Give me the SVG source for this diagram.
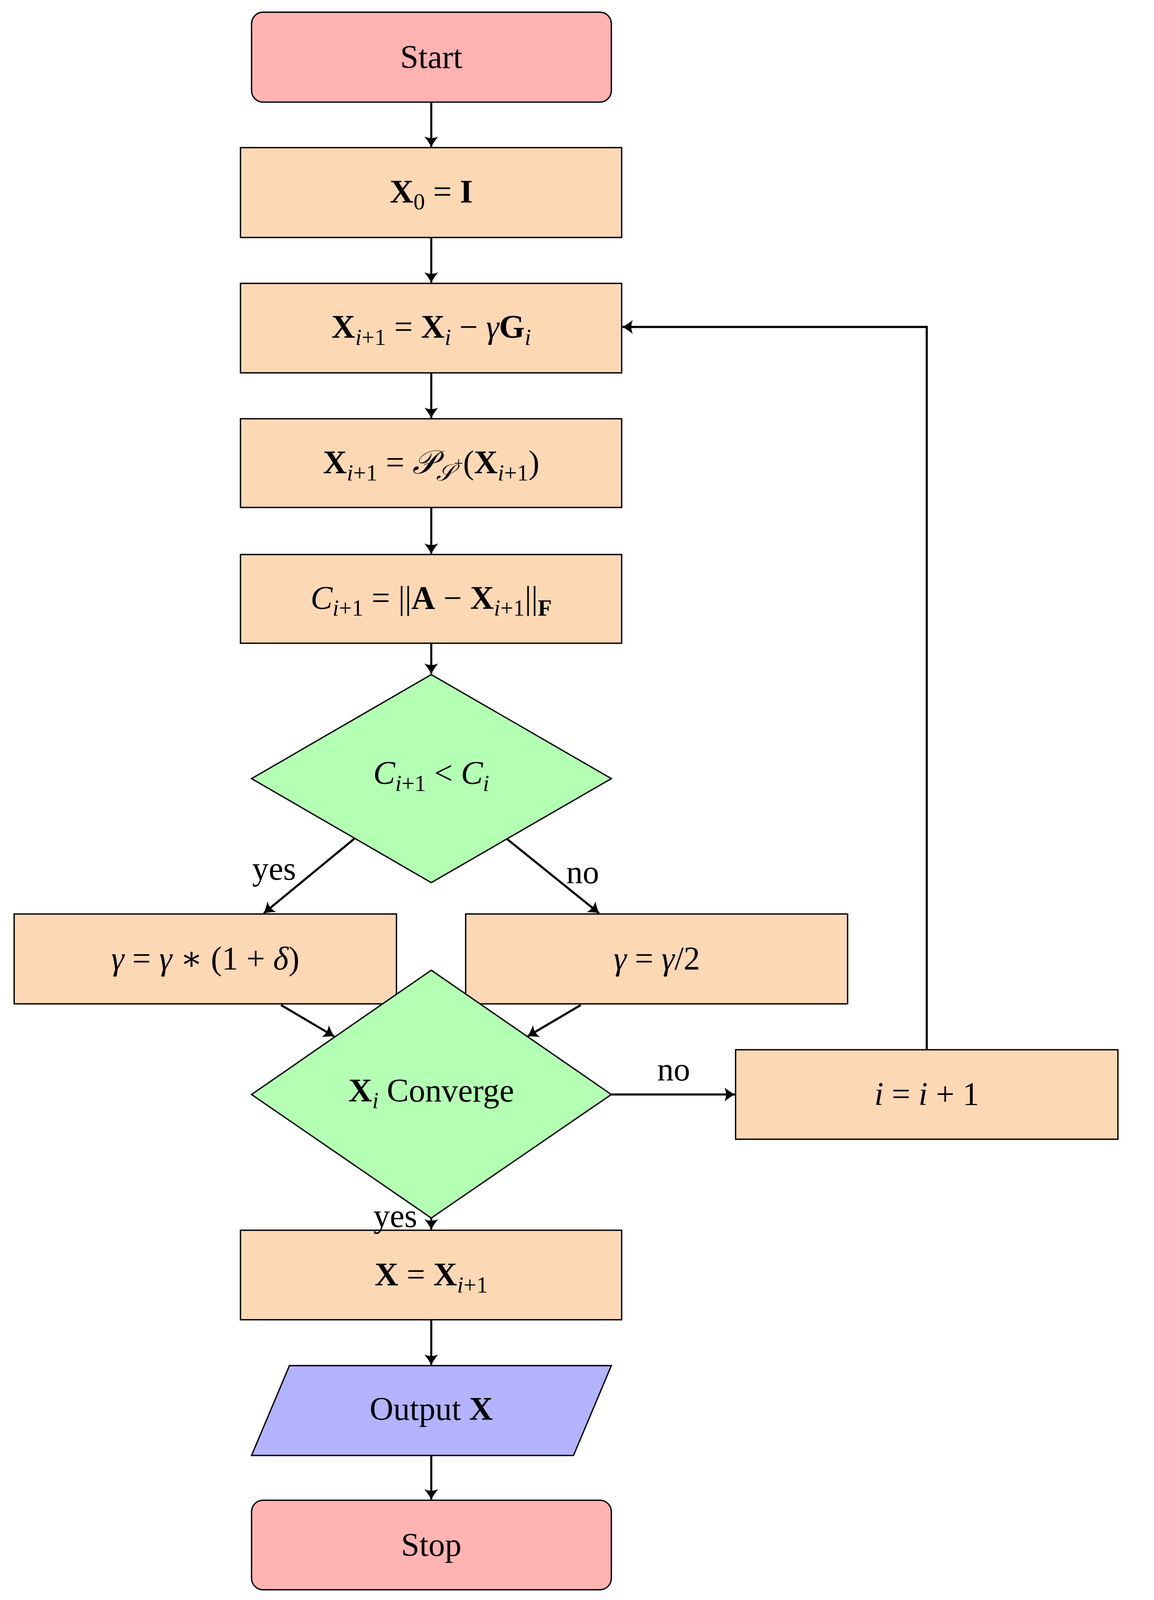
<svg xmlns="http://www.w3.org/2000/svg" width="2955" height="4187" viewBox="0 0 2955 4187">
<style>
.t{fill:#fdd8b4;stroke:#000;stroke-width:3.5}
.term{fill:#ffb3b3;stroke:#000;stroke-width:3.5}
.dec{fill:#b3ffb3;stroke:#000;stroke-width:3.5}
.io{fill:#b3b3ff;stroke:#000;stroke-width:3.5}
text{font-family:"Liberation Serif","DejaVu Serif",serif;font-size:86px;text-anchor:middle;fill:#000}
.b{font-weight:bold}
.i{font-style:italic}
.s{font-size:60px}
.c line,.c path{stroke:#000;stroke-width:5.5;fill:none;marker-end:url(#a)}
</style>
<defs>
<marker id="a" markerWidth="10" markerHeight="10" refX="9" refY="5" orient="auto" markerUnits="userSpaceOnUse" viewBox="0 0 10 10" style="overflow:visible">
<path d="M-22,-13 Q-8,-2 5,5 Q-8,12 -22,23 Q-14,5 -22,-13Z" transform="translate(4,0)" fill="#000"/>
</marker>
</defs>
<g transform="scale(0.979)">
<g id="start"><rect class="term" x="658" y="32" width="941" height="235" rx="30"/><text x="1128" y="178">Start</text></g>
<g id="init"><rect class="t" x="629" y="386" width="997" height="235"/><text x="1128" y="530"><tspan class="b">X</tspan><tspan class="s" dy="18">0</tspan><tspan dy="-18">   =   </tspan><tspan class="b">I</tspan></text></g>
<g id="grad"><rect class="t" x="629" y="741" width="997" height="234"/><text x="1128" y="884"><tspan class="b">X</tspan><tspan class="s i" dy="18">i</tspan><tspan class="s" >+1</tspan><tspan dy="-18">  =  </tspan><tspan class="b">X</tspan><tspan class="s i" dy="18">i</tspan><tspan dy="-18"> − </tspan><tspan class="i">γ</tspan><tspan class="b">G</tspan><tspan class="s i" dy="18">i</tspan></text></g>
<g id="proj"><rect class="t" x="629" y="1095" width="997" height="232"/><text x="1128" y="1238"><tspan class="b">X</tspan><tspan class="s i" dy="18">i</tspan><tspan class="s">+1</tspan><tspan dy="-18">  =  </tspan><tspan class="i">𝒫</tspan><tspan class="s i" dy="18">𝒮</tspan><tspan style="font-size:42px" dy="-30">+</tspan><tspan dy="12">(</tspan><tspan class="b">X</tspan><tspan class="s i" dy="18">i</tspan><tspan class="s">+1</tspan><tspan dy="-18">)</tspan></text></g>
<g id="cost"><rect class="t" x="629" y="1450" width="997" height="232"/><text x="1128" y="1592"><tspan class="i">C</tspan><tspan class="s i" dy="18">i</tspan><tspan class="s">+1</tspan><tspan dy="-18">  =  ||</tspan><tspan class="b">A</tspan><tspan> − </tspan><tspan class="b">X</tspan><tspan class="s i" dy="18">i</tspan><tspan class="s">+1</tspan><tspan dy="-18">||</tspan><tspan class="s b" dy="18">F</tspan></text></g>
<g id="cmp"><polygon class="dec" points="1128,1764 1599,2036 1128,2308 658,2036"/><text x="1128" y="2050"><tspan class="i">C</tspan><tspan class="s i" dy="18">i</tspan><tspan class="s">+1</tspan><tspan dy="-18"> &lt; </tspan><tspan class="i">C</tspan><tspan class="s i" dy="18">i</tspan></text></g>
<g id="inc"><rect class="t" x="37" y="2390" width="1000" height="235"/><text x="537" y="2535"><tspan class="i">γ</tspan><tspan>  =  </tspan><tspan class="i">γ</tspan><tspan> ∗ (1 + </tspan><tspan class="i">δ</tspan><tspan>)</tspan></text></g>
<g id="half"><rect class="t" x="1218" y="2390" width="999" height="235"/><text x="1718" y="2535"><tspan class="i">γ</tspan><tspan>   =   </tspan><tspan class="i">γ</tspan><tspan>/2</tspan></text></g>
<g id="conv"><polygon class="dec" points="1128,2537 1599,2862 1128,3185 658,2862"/><text x="1128" y="2880"><tspan class="b">X</tspan><tspan class="s i" dy="18">i</tspan><tspan dy="-18"> Converge</tspan></text></g>
<g id="iter"><rect class="t" x="1924" y="2745" width="1000" height="234"/><text x="2424" y="2890"><tspan class="i">i</tspan><tspan>   =   </tspan><tspan class="i">i</tspan><tspan> + 1</tspan></text></g>
<g id="final"><rect class="t" x="629" y="3217" width="997" height="234"/><text x="1128" y="3362"><tspan class="b">X</tspan><tspan>   =   </tspan><tspan class="b">X</tspan><tspan class="s i" dy="18">i</tspan><tspan class="s">+1</tspan></text></g>
<g id="out"><polygon class="io" points="757,3571 1599,3571 1500,3806 658,3806"/><text x="1128" y="3713">Output <tspan class="b">X</tspan></text></g>
<g id="stop"><rect class="term" x="658" y="3923" width="941" height="234" rx="30"/><text x="1128" y="4068">Stop</text></g>
<g class="c" id="connectors">
<line x1="1128" y1="267" x2="1128" y2="384"/>
<line x1="1128" y1="621" x2="1128" y2="739"/>
<line x1="1128" y1="975" x2="1128" y2="1093"/>
<line x1="1128" y1="1327" x2="1128" y2="1448"/>
<line x1="1128" y1="1682" x2="1128" y2="1762"/>
<line x1="927" y1="2193" x2="690" y2="2388"/>
<line x1="1325" y1="2193" x2="1567" y2="2388"/>
<line x1="735" y1="2628" x2="874" y2="2710"/>
<line x1="1519" y1="2628" x2="1380" y2="2710"/>
<line x1="1599" y1="2862" x2="1922" y2="2862"/>
<path d="M2424,2745 V855 H1628"/>
<line x1="1128" y1="3185" x2="1128" y2="3215"/>
<line x1="1128" y1="3451" x2="1128" y2="3569"/>
<line x1="1128" y1="3806" x2="1128" y2="3921"/>
</g>
<g id="labels">
<text x="717" y="2300">yes</text>
<text x="1524" y="2310">no</text>
<text x="1762" y="2825">no</text>
<text x="1034" y="3208">yes</text>
</g>
</g>
</svg>
